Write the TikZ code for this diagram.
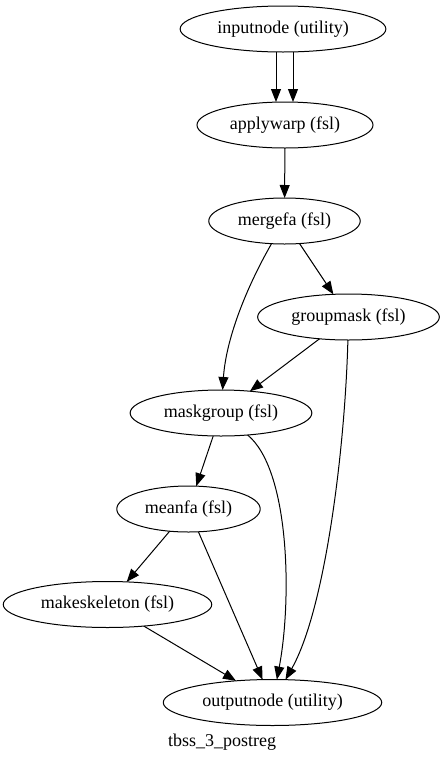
\documentclass[tikz,border=0pt]{standalone}
\usepackage{fontspec}
\setmainfont{Liberation Serif}
\usetikzlibrary{arrows.meta,shapes.geometric}
\tikzset{
  proc/.style={draw,ellipse,line width=1pt,inner xsep=7pt,minimum height=46pt,outer sep=0pt},
  every node/.style={font=\fontsize{18}{20}\selectfont}
}
\begin{document}
\begin{tikzpicture}[x=1pt,y=-1pt]
      \useasboundingbox (0,0) rectangle (444,761);
      \draw
        (283,29) node[proc] (inputnode){inputnode (utility)}
        (285,125) node[proc] (applywarp){applywarp (fsl)}
        (284.5,221) node[proc] (mergefa){mergefa (fsl)}
        (348.5,317) node[proc] (groupmask){groupmask (fsl)}
        (221,413) node[proc] (maskgroup){maskgroup (fsl)}
        (188.5,509) node[proc] (meanfa){meanfa (fsl)}
        (107.5,604.5) node[proc] (makeskeleton){makeskeleton (fsl)}
        (272.5,702.5) node[proc] (outputnode){outputnode (utility)};
      \node (title) at (222,742) {tbss\_3\_postreg};
      \begin{scope}[-{Triangle[length=13pt,width=10pt]},line width=1pt]
        \draw ([xshift=-7pt]inputnode.south) to ([xshift=-7pt]inputnode.south |- applywarp.north);
        \draw ([xshift=10pt]inputnode.south) to ([xshift=10pt]inputnode.south |- applywarp.north);
        \draw (applywarp) to (mergefa);
        \draw (mergefa) to (groupmask);
        \draw (mergefa) .. controls (245,290) and (226,340) .. (maskgroup);
        \draw (groupmask) to (maskgroup);
        \draw (groupmask) .. controls (345,450) and (325,610) .. (outputnode);
        \draw (maskgroup) to (meanfa);
        \draw (maskgroup) .. controls (290,470) and (292,600) .. (outputnode);
        \draw (meanfa) to (makeskeleton);
        \draw (meanfa) to (outputnode);
        \draw (makeskeleton) to (outputnode);
      \end{scope}
    \end{tikzpicture}
\end{document}
